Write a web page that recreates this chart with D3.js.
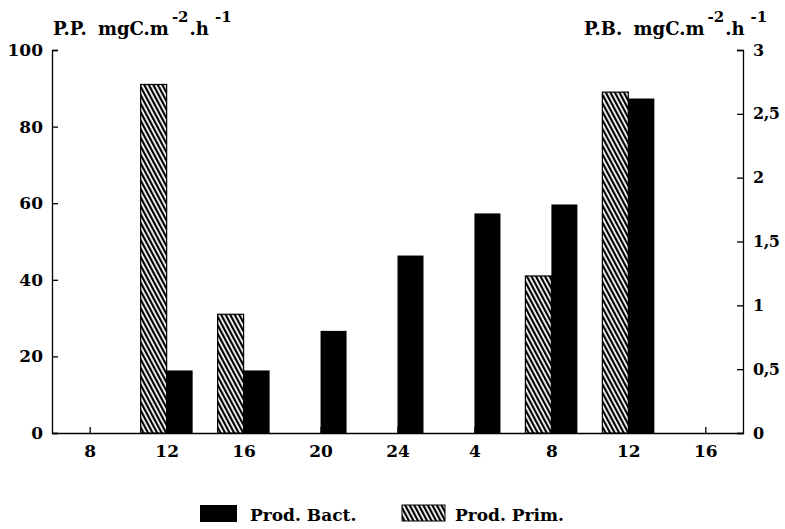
<!DOCTYPE html>
<html>
<head>
<meta charset="utf-8">
<script src="https://cdn.jsdelivr.net/npm/d3@7"></script>
<style>
  body { margin: 0; background: #fff; }
  text { font-family: "DejaVu Serif", "Liberation Serif", serif; font-weight: bold; fill: #000; }
</style>
</head>
<body>
<div class="chart"></div>
<script>
// hours of sampling (two days, so labels repeat)
var hours = ["8", "12", "16", "20", "24", "4", "8", "12", "16"];
// primary production, mgC.m-2.h-1 (left axis)
var prodPrim = [null, 91, 31, null, null, null, 41, 89, null];
// bacterial production, mgC.m-2.h-1 (right axis)
var prodBact = [null, 0.49, 0.49, 0.8, 1.39, 1.72, 1.79, 2.62, null];
var leftTicks = [0, 20, 40, 60, 80, 100];
var rightTicks = [0, 0.5, 1, 1.5, 2, 2.5, 3];

var svgWidth = 785;
var svgHeight = 529;
var margin = { top: 50, right: 42, bottom: 96, left: 52 };
var chartWidth = svgWidth - margin.left - margin.right;
var chartHeight = svgHeight - margin.top - margin.bottom;

var svg = d3.select(".chart")
  .append("svg")
  .attr("width", svgWidth)
  .attr("height", svgHeight);

// hatch pattern for primary production
var defs = svg.append("defs");
var pat = defs.append("pattern")
  .attr("id", "hatch")
  .attr("patternUnits", "userSpaceOnUse")
  .attr("width", 4)
  .attr("height", 4)
  .attr("patternTransform", "rotate(-28)");
pat.append("rect").attr("width", 4).attr("height", 4).attr("fill", "#fff");
pat.append("rect").attr("width", 2.2).attr("height", 4).attr("fill", "#000");

var chartGroup = svg.append("g")
  .attr("transform", `translate(${margin.left}, ${margin.top})`);

// index based so repeated hours stay distinct
var idx = d3.range(hours.length);
var xScale = d3.scalePoint()
  .domain(idx)
  .range([0, chartWidth])
  .padding(0.49);

var yLeft = d3.scaleLinear().domain([0, 100]).range([chartHeight, 0]);
var yRight = d3.scaleLinear().domain([0, 3]).range([chartHeight, 0]);
var barWidth = 26;

// x axis with small upward ticks
var bottomAxis = d3.axisBottom(xScale)
  .tickSizeInner(-6)
  .tickSizeOuter(0)
  .tickPadding(12)
  .tickFormat(i => hours[i]);
var xAxisG = chartGroup.append("g")
  .attr("transform", `translate(0, ${chartHeight})`)
  .call(bottomAxis);
xAxisG.selectAll("text").style("font-size", "17px");

// left axis, ticks inward
var leftAxis = d3.axisLeft(yLeft)
  .tickValues(leftTicks)
  .tickSizeInner(-6)
  .tickSizeOuter(-6)
  .tickPadding(9);
var leftG = chartGroup.append("g").call(leftAxis);
leftG.selectAll("text").style("font-size", "17px");

// right axis, ticks inward
var rightAxis = d3.axisRight(yRight)
  .tickValues(rightTicks)
  .tickSizeInner(-6)
  .tickSizeOuter(-6)
  .tickPadding(10)
  .tickFormat(d => String(d).replace(".", ","));
var rightG = chartGroup.append("g")
  .attr("transform", `translate(${chartWidth}, 0)`)
  .call(rightAxis);
rightG.selectAll("text").style("font-size", "16px").attr("letter-spacing", "-0.5");

chartGroup.selectAll(".domain, .tick line")
  .attr("stroke", "#000")
  .attr("stroke-width", 1.3);

// primary production bars (hatched, left of tick)
chartGroup.selectAll(".prim")
  .data(idx.filter(i => prodPrim[i] != null))
  .enter()
  .append("rect")
  .attr("class", "prim")
  .attr("x", i => xScale(i) - barWidth)
  .attr("y", i => yLeft(prodPrim[i]))
  .attr("width", barWidth)
  .attr("height", i => chartHeight - yLeft(prodPrim[i]))
  .attr("fill", "url(#hatch)")
  .attr("stroke", "#000")
  .attr("stroke-width", 1.2);

// bacterial production bars (black, right of tick)
chartGroup.selectAll(".bact")
  .data(idx.filter(i => prodBact[i] != null))
  .enter()
  .append("rect")
  .attr("class", "bact")
  .attr("x", i => xScale(i))
  .attr("y", i => yRight(prodBact[i]))
  .attr("width", barWidth)
  .attr("height", i => chartHeight - yRight(prodBact[i]))
  .attr("fill", "#000");

// axis titles with superscripts
function unitTitle(x, label) {
  var t = svg.append("text")
    .attr("x", x)
    .attr("y", 35)
    .style("font-size", "18px")
    .attr("word-spacing", "5");
  t.append("tspan").text(label + " mgC.m");
  t.append("tspan").attr("dy", -13).attr("dx", 3).style("font-size", "15px").text("-2");
  t.append("tspan").attr("dy", 13).attr("dx", 1).text(".h");
  t.append("tspan").attr("dy", -13).attr("dx", 6).style("font-size", "15px").text("-1");
}
unitTitle(53, "P.P.");
unitTitle(584, "P.B.");

// legend
var legend = svg.append("g").attr("transform", "translate(200, 505)");
legend.append("rect").attr("width", 37).attr("height", 17).attr("fill", "#000");
legend.append("text").attr("x", 50).attr("y", 16).style("font-size", "17px").text("Prod. Bact.");
legend.append("rect").attr("x", 202).attr("width", 43).attr("height", 16)
  .attr("fill", "url(#hatch)").attr("stroke", "#000").attr("stroke-width", 1);
legend.append("text").attr("x", 255).attr("y", 16).style("font-size", "17px").text("Prod. Prim.");
</script>
</body>
</html>
